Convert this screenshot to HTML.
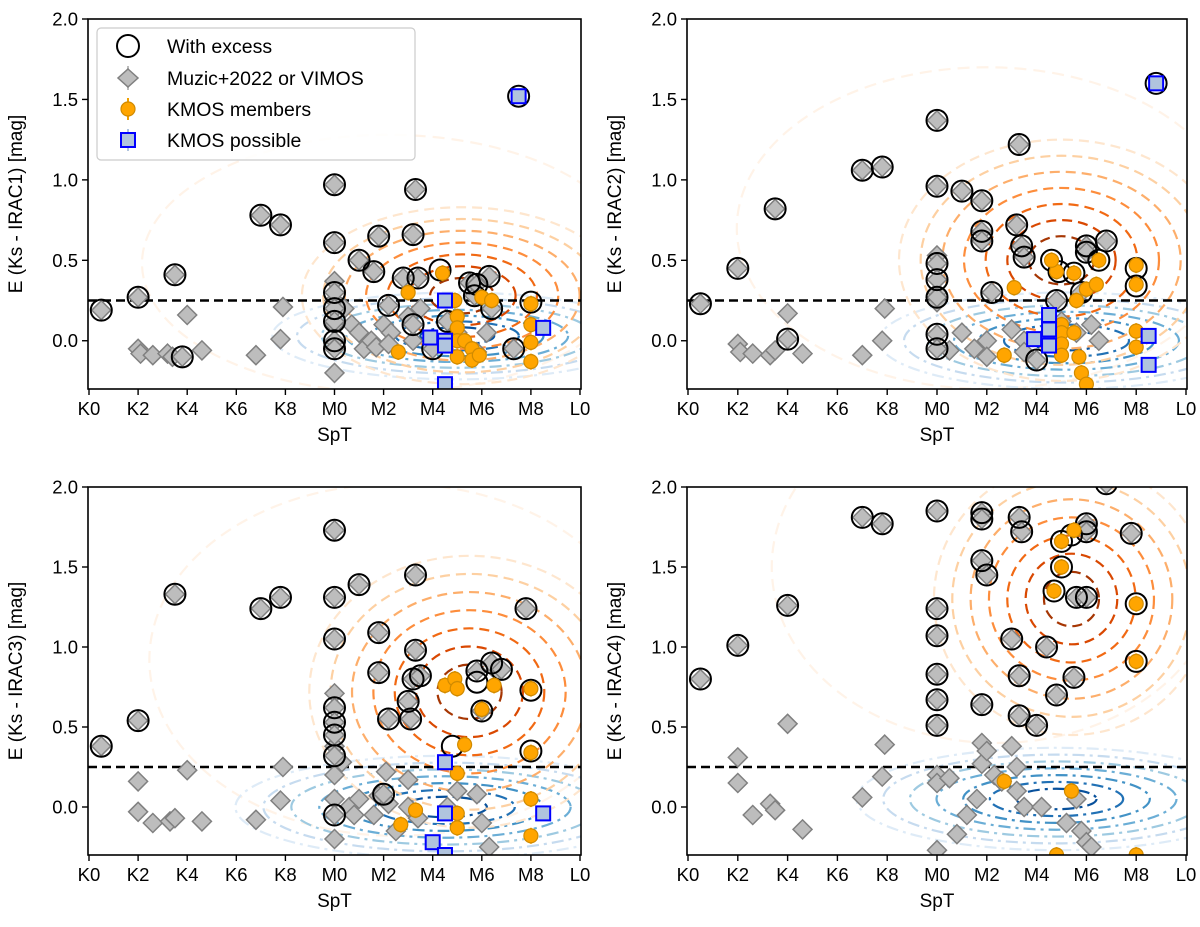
<!DOCTYPE html>
<html><head><meta charset="utf-8">
<style>
html,body{margin:0;padding:0;background:#fff;}
svg{display:block;font-family:"Liberation Sans","DejaVu Sans",sans-serif;}
</style></head>
<body>
<svg id="fig" width="1200" height="927" viewBox="0 0 1200 927" xmlns="http://www.w3.org/2000/svg"></svg>
<script>
// ---- data: SpT index (K0=0, M0=10, L0=20), E(Ks-IRACn) ----
const xTickLabels = ["K0","K2","K4","K6","K8","M0","M2","M4","M6","M8","L0"];
const yTickLabels = ["0.0","0.5","1.0","1.5","2.0"];
const panelBands = ["IRAC1","IRAC2","IRAC3","IRAC4"];
const excessThreshold = 0.25;

const p1Excess = [[0.5,0.19],[2,0.27],[3.5,0.41],[3.8,-0.1],[7,0.78],[7.8,0.72],[10,0.97],[10,0.61],[11,0.5],[11.6,0.43],[11.8,0.65],[12.8,0.39],[13.3,0.94],[13.2,0.66],[13.4,0.39],[14.3,0.44],[15.5,0.36],[16.3,0.4],[15.8,0.35],[18,0.24],[17.3,-0.05],[10,0.3],[10,0.2],[10,0.12],[10,0.0],[10,-0.05],[12.2,0.22],[13.2,0.1],[14.6,0.12],[15.7,0.28],[16.4,0.2],[14,-0.05],[17.5,1.52]];
const p1Gray = [[2,-0.05],[2.1,-0.08],[2.6,-0.09],[3.2,-0.08],[3.4,-0.1],[4,0.16],[4.6,-0.06],[6.8,-0.09],[7.9,0.21],[7.8,0.01],[10,0.37],[10,0.25],[10,0.1],[10,-0.2],[10.4,0.2],[10.7,0.1],[11,0.05],[11.2,-0.05],[11.5,0.0],[11.7,-0.04],[12,0.1],[12.3,0.05],[12.2,-0.02],[13,0.15],[13.2,0.0],[13.5,0.2],[15,0.05],[15.8,-0.07],[16.2,0.05],[10,0.3],[10,0.2],[10,0.12],[10,0.0],[10,-0.05],[12.2,0.22],[13.2,0.1],[14.6,0.12],[15.7,0.28],[16.4,0.2],[0.5,0.19],[2,0.27],[3.5,0.41],[3.8,-0.1],[7,0.78],[7.8,0.72],[10,0.97],[10,0.61],[11,0.5],[11.6,0.43],[11.8,0.65],[12.8,0.39],[13.3,0.94],[13.2,0.66],[13.4,0.39],[15.5,0.36],[16.3,0.4],[15.8,0.35],[17.3,-0.05],[14,-0.05]];
const p1Orange = [[13,0.3],[12.6,-0.07],[14.4,0.42],[14.9,0.25],[15,0.15],[15,0.08],[15,0.0],[15,-0.1],[15.3,0.0],[15.6,-0.05],[15.6,-0.12],[15.9,-0.09],[16,0.27],[16.4,0.25],[18,0.23],[18,0.1],[18,-0.01],[18,-0.13]];
const p1Blue = [[13.9,0.02],[14.5,0.25],[14.5,0.0],[14.5,-0.03],[14.5,-0.27],[18.5,0.08],[17.5,1.52]];

const p2Excess = [[0.5,0.23],[2,0.45],[3.5,0.82],[4,0.01],[7,1.06],[7.8,1.08],[10,1.37],[10,0.96],[11,0.93],[11.8,0.87],[11.8,0.68],[11.8,0.62],[12.2,0.3],[13.3,1.22],[13.2,0.72],[13.4,0.59],[13.5,0.52],[14,-0.12],[14.6,0.5],[14.9,0.43],[15.5,0.42],[16,0.59],[16,0.55],[16.5,0.5],[16.8,0.62],[15.8,0.3],[14.8,0.25],[18,0.45],[18,0.34],[10,0.48],[10,0.38],[10,0.27],[10,0.04],[10,-0.05],[18.8,1.6]];
const p2Gray = [[2,-0.02],[2.1,-0.07],[2.6,-0.08],[3.3,-0.09],[3.5,-0.06],[4,0.17],[4.6,-0.08],[7,-0.09],[7.9,0.2],[7.8,0.0],[10,0.53],[10,0.3],[10,0.24],[10.5,-0.06],[11,0.05],[11.5,-0.05],[12,0.0],[12,-0.1],[13,0.07],[13.5,0.0],[13.5,-0.07],[14.5,0.05],[15,0.12],[15.6,0.05],[16.2,0.1],[16.5,0.0],[0.5,0.23],[2,0.45],[3.5,0.82],[4,0.01],[7,1.06],[7.8,1.08],[10,1.37],[10,0.96],[11,0.93],[11.8,0.87],[11.8,0.68],[11.8,0.62],[12.2,0.3],[13.3,1.22],[13.2,0.72],[13.4,0.59],[13.5,0.52],[14,-0.12],[16,0.59],[16,0.55],[16.8,0.62],[15.8,0.3],[14.8,0.25],[10,0.48],[10,0.38],[10,0.27],[10,0.04],[10,-0.05]];
const p2Orange = [[12.7,-0.09],[13.1,0.33],[14.8,0.43],[15,0.1],[15,0.05],[15,-0.02],[15,-0.09],[15.6,0.25],[15.7,-0.1],[15.8,-0.2],[16,-0.27],[16,0.32],[16.5,0.5],[16.4,0.35],[18,0.47],[18,0.35],[18,0.06],[18,-0.04],[15.5,0.05],[14.6,0.5],[15.5,0.42]];
const p2Blue = [[13.9,0.01],[14.5,0.16],[14.5,0.07],[14.5,-0.03],[18.5,0.03],[18.5,-0.15],[18.8,1.6]];

const p3Excess = [[0.5,0.38],[2,0.54],[3.5,1.33],[7,1.24],[7.8,1.31],[10,1.73],[10,1.31],[10,1.05],[10,0.62],[10,0.53],[10,0.45],[10,0.32],[10,-0.05],[11,1.39],[11.8,1.09],[11.8,0.84],[12.2,0.55],[12,0.08],[13.3,1.45],[13.3,0.98],[13.2,0.8],[13,0.66],[13.1,0.55],[13.5,0.82],[14.8,0.38],[15.8,0.85],[16,0.6],[16.4,0.9],[16.8,0.86],[17.8,1.24],[18,0.73],[18,0.35],[15.8,0.78]];
const p3Gray = [[2,0.16],[2,-0.03],[2.6,-0.1],[3.3,-0.09],[3.5,-0.07],[4,0.23],[4.6,-0.09],[6.8,-0.08],[7.9,0.25],[7.8,0.04],[10,0.71],[10,0.38],[10,0.2],[10,0.05],[10,-0.2],[10.3,0.28],[10.6,0.0],[10.8,-0.05],[11,0.05],[11.6,-0.05],[11.8,0.07],[12.1,0.22],[12.2,0.02],[12.5,-0.15],[13,0.17],[13,0.0],[13.4,-0.07],[14.6,0.0],[15,0.1],[15.8,0.08],[16,-0.1],[16.3,-0.25],[16.6,0.85],[0.5,0.38],[2,0.54],[3.5,1.33],[7,1.24],[7.8,1.31],[10,1.73],[10,1.31],[10,1.05],[10,0.62],[10,0.53],[10,0.45],[10,0.32],[10,-0.05],[11,1.39],[11.8,1.09],[11.8,0.84],[12.2,0.55],[12,0.08],[13.3,1.45],[13.3,0.98],[13.2,0.8],[13,0.66],[13.1,0.55],[13.5,0.82],[15.8,0.85],[16,0.6],[16.4,0.9],[16.8,0.86],[17.8,1.24]];
const p3Orange = [[12.7,-0.11],[13.3,-0.02],[14.5,0.76],[14.9,0.8],[15,0.74],[15,0.21],[15,-0.04],[15,-0.13],[15.3,0.39],[16,0.61],[16.5,0.76],[18,0.74],[18,0.34],[18,0.05],[18,-0.18]];
const p3Blue = [[14,-0.22],[14.5,0.28],[14.5,-0.04],[14.5,-0.3],[18.5,-0.04]];

const p4Excess = [[0.5,0.8],[2,1.01],[4,1.26],[7,1.81],[7.8,1.77],[10,1.85],[10,1.24],[10,1.07],[10,0.83],[10,0.67],[10,0.51],[11.8,1.84],[11.8,1.8],[11.8,1.54],[12,1.45],[11.8,0.64],[13.3,1.81],[13.4,1.72],[13,1.05],[13.3,0.82],[13.3,0.57],[14,0.51],[14.4,1.0],[14.8,0.7],[15.4,1.7],[16,1.77],[16,1.72],[15.6,1.31],[16,1.31],[15.5,0.81],[16.8,2.02],[17.8,1.71],[14.7,1.35],[15,1.5],[15,1.66],[18,1.27],[18,0.91]];
const p4Gray = [[2,0.31],[2,0.15],[2.6,-0.05],[3.3,0.02],[3.5,-0.02],[4,0.52],[4.6,-0.14],[7,0.06],[7.9,0.39],[7.8,0.19],[10,0.2],[10,0.15],[10,-0.27],[10.5,0.18],[10.8,-0.17],[11.2,-0.05],[11.6,0.05],[11.8,0.4],[11.8,0.27],[12,0.35],[12.3,0.2],[12.6,0.16],[13,0.38],[13.2,0.25],[13.2,0.1],[13.5,0.0],[14.2,0.0],[15.2,-0.1],[15.6,0.05],[15.8,-0.15],[16,-0.22],[16.2,-0.25],[0.5,0.8],[2,1.01],[4,1.26],[7,1.81],[7.8,1.77],[10,1.85],[10,1.24],[10,1.07],[10,0.83],[10,0.67],[10,0.51],[11.8,1.84],[11.8,1.8],[11.8,1.54],[12,1.45],[11.8,0.64],[13.3,1.81],[13.4,1.72],[13,1.05],[13.3,0.82],[13.3,0.57],[14,0.51],[14.4,1.0],[14.8,0.7],[16,1.77],[16,1.72],[15.6,1.31],[16,1.31],[15.5,0.81],[16.8,2.02],[17.8,1.71]];
const p4Orange = [[14.7,1.35],[15,1.5],[15,1.66],[15.5,1.73],[18,1.27],[18,0.91],[12.7,0.16],[15.4,0.1],[14.8,-0.3],[18,-0.3]];
const p4Blue = [];

// contour centres [spt, value] and max radii [rx units, ry mag]
const orangeKde = [[15.2,0.28,6.5,0.55],[15.0,0.5,6.5,0.75],[15.5,0.72,6.5,0.85],[15.4,1.3,5.5,0.85]];
const blueKde = [[15.0,0.03,7.5,0.27],[15.2,0.0,7.5,0.3],[14.5,0.0,8.5,0.32],[14.8,0.05,8,0.32]];

const panelsExcess=[p1Excess,p2Excess,p3Excess,p4Excess];
const panelsGray=[p1Gray,p2Gray,p3Gray,p4Gray];
const panelsOrange=[p1Orange,p2Orange,p3Orange,p4Orange];
const panelsBlue=[p1Blue,p2Blue,p3Blue,p4Blue];

const NS="http://www.w3.org/2000/svg";
const svg=document.getElementById('fig');
function mk(tag,attrs,parent){const e=document.createElementNS(NS,tag);for(const k in attrs)e.setAttribute(k,attrs[k]);(parent||svg).appendChild(e);return e;}

const frames=[{l:88,r:581,t:19,b:389},{l:687,r:1187,t:19,b:389},{l:88,r:581,t:487,b:855},{l:687,r:1187,t:487,b:855}];
const oranges=['#fee6ce','#fdd0a2','#fdae6b','#fd8d3c','#f16913','#d94801','#a63603'];
const blues=['#deebf7','#c6dbef','#9ecae1','#6baed6','#4292c6','#2171b5','#08519c'];

frames.forEach((f,pi)=>{
  const xs=v=>f.l+1+(v/20)*(f.r-f.l-2);
  const ys=v=>f.b-((v+0.3)/2.3)*(f.b-f.t);
  const g=mk('g',{});
  
  
  const cid='clip'+pi;
  const cp=mk('clipPath',{id:cid},g);mk('rect',{x:f.l,y:f.t,width:f.r-f.l,height:f.b-f.t},cp);
  const plot=mk('g',{'clip-path':'url(#'+cid+')'},g);
  const ok=orangeKde[pi], bk=blueKde[pi];
  const cg=mk('g',{fill:'none','stroke-width':2.2},plot);
  
  
  mk('ellipse',{cx:xs(ok[0]-3),cy:ys(ok[1]+0.2),rx:(ok[2]+3.5)*(f.r-f.l)/20,ry:(ok[3]+0.25)*(f.b-f.t)/2.3,stroke:'#fff3e8','stroke-dasharray':'12 7'},cg);
  for(let i=0;i<7;i++){
    const s=1-i/7.5;
    mk('ellipse',{cx:xs(bk[0]),cy:ys(bk[1]),rx:bk[2]*s*(f.r-f.l)/20,ry:bk[3]*s*(f.b-f.t)/2.3,stroke:blues[i],'stroke-dasharray':'12 5 3 5'},cg);
  }
  for(let i=0;i<7;i++){
    const s=1-i/7.5;
    mk('ellipse',{cx:xs(ok[0]),cy:ys(ok[1]),rx:ok[2]*s*(f.r-f.l)/20,ry:ok[3]*s*(f.b-f.t)/2.3,stroke:oranges[i],'stroke-dasharray':'10 6'},cg);
  }
  const th=mk('line',{x1:f.l,x2:f.r,y1:ys(excessThreshold),y2:ys(excessThreshold),stroke:'#000','stroke-width':2.5,'stroke-dasharray':'9 5'},plot);
  
  
  panelsGray[pi].forEach(p=>{
    const x=xs(p[0]),y=ys(p[1]);
    const d=mk('polygon',{points:`${x},${y-9.5} ${x+9.5},${y} ${x},${y+9.5} ${x-9.5},${y}`,fill:'#bdbdbd',stroke:'#808080','stroke-width':1.5},plot);
    
    
  });
  panelsExcess[pi].forEach(p=>{
    const c=mk('circle',{cx:xs(p[0]),cy:ys(p[1]),r:10.5,fill:'none',stroke:'#000','stroke-width':2},plot);
    
    
  });
  panelsOrange[pi].forEach(p=>{
    const x=xs(p[0]),y=ys(p[1]);
    mk('line',{x1:x,x2:x,y1:y-8,y2:y+8,stroke:'#f0a000','stroke-width':2},plot);
    const c=mk('circle',{cx:x,cy:y,r:7,fill:'#ffa500',stroke:'#d08a00','stroke-width':1.2},plot);
    
    
  });
  panelsBlue[pi].forEach(p=>{
    const x=xs(p[0]),y=ys(p[1]);
    const r=mk('rect',{x:x-7,y:y-7,width:14,height:14,fill:'#b0c4de',stroke:'#0000ff','stroke-width':2},plot);
    
    
  });
  const fr=mk('rect',{x:f.l,y:f.t,width:f.r-f.l,height:f.b-f.t,fill:'none',stroke:'#000','stroke-width':1.6},g);
  
  
  xTickLabels.forEach((lab,i)=>{
    const x=xs(i*2);
    mk('line',{x1:x,x2:x,y1:f.b,y2:f.b+6,stroke:'#000','stroke-width':1.4},g);
    const t=mk('text',{x:x,y:f.b+26,'font-size':18.5,'text-anchor':'middle'},g);t.textContent=lab;
    
    
  });
  yTickLabels.forEach(lab=>{
    const y=ys(parseFloat(lab));
    mk('line',{x1:f.l-6,x2:f.l,y1:y,y2:y,stroke:'#000','stroke-width':1.4},g);
    const t=mk('text',{x:f.l-10,y:y+6.5,'font-size':18.5,'text-anchor':'end'},g);t.textContent=lab;
    
    
  });
  const xl=mk('text',{x:(f.l+f.r)/2,y:f.b+52,'font-size':19,'text-anchor':'middle'},g);xl.textContent='SpT';
  
  
  const ycx=f.l-66, ycy=(f.t+f.b)/2;
  const yl=mk('text',{x:ycx,y:ycy,'font-size':19,'text-anchor':'middle',transform:`rotate(-90 ${ycx} ${ycy})`},g);
  yl.textContent='E (Ks - '+panelBands[pi]+') [mag]';
  
  
});

const lg=mk('g',{});


mk('rect',{x:97,y:28,width:318,height:132,rx:4,fill:'#fff','fill-opacity':0.85,stroke:'#ccc','stroke-width':1.2},lg);
mk('circle',{cx:128,cy:46,r:11,fill:'none',stroke:'#000','stroke-width':2},lg);
mk('line',{x1:128,x2:128,y1:66,y2:90,stroke:'#bbb','stroke-width':2},lg);
mk('polygon',{points:'128,69 138,78 128,87 118,78',fill:'#bdbdbd',stroke:'#808080','stroke-width':1.5},lg);
mk('line',{x1:128,x2:128,y1:98,y2:120,stroke:'#f0a000','stroke-width':2},lg);
mk('circle',{cx:128,cy:109,r:7,fill:'#ffa500',stroke:'#d08a00','stroke-width':1.2},lg);
mk('line',{x1:128,x2:128,y1:129,y2:151,stroke:'#b0c4de','stroke-width':2},lg);
mk('rect',{x:121,y:133,width:14,height:14,fill:'#b0c4de',stroke:'#0000ff','stroke-width':2},lg);
[['With excess',46],['Muzic+2022 or VIMOS',78],['KMOS members',109],['KMOS possible',140]].forEach(([s,y])=>{
  const t=mk('text',{x:167,y:y+7,'font-size':19.5},lg);t.textContent=s;
  
  
});
</script>
</body></html>
